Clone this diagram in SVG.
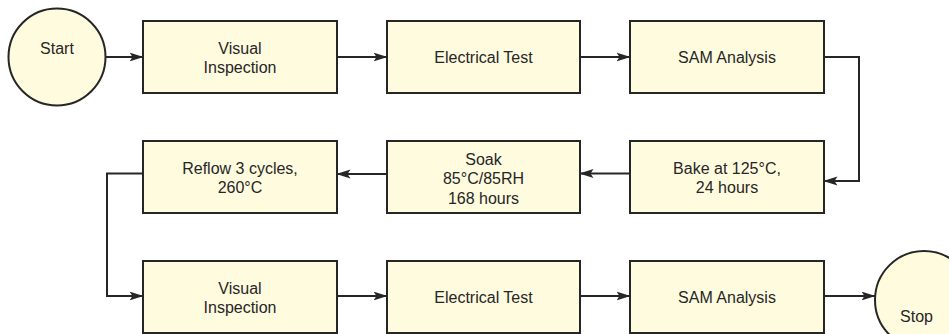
<svg xmlns="http://www.w3.org/2000/svg" width="949" height="334" viewBox="0 0 949 334">
<defs>
<style>
.node{fill:#fffbdf;stroke:#262626;stroke-width:2}
.lbl{font-family:"Liberation Sans",Arial,sans-serif;font-size:16px;fill:#262626;text-anchor:middle}
.conn{fill:none;stroke:#262626;stroke-width:2}
</style>
<marker id="ah" markerUnits="userSpaceOnUse" markerWidth="14" markerHeight="10" viewBox="0 0 14 10" refX="13.5" refY="5" orient="auto">
<path d="M0,0.5 L14,5 L0,9.5 L3,5 Z" fill="#262626"/>
</marker>
</defs>
<rect width="949" height="334" fill="#ffffff"/>
<g id="connectors">
<path class="conn" d="M105.5,57 H143" marker-end="url(#ah)"/>
<path class="conn" d="M337,57 H387" marker-end="url(#ah)"/>
<path class="conn" d="M580,57 H630" marker-end="url(#ah)"/>
<path class="conn" d="M824,57 H859 V181 H824" marker-end="url(#ah)"/>
<path class="conn" d="M630,173.5 H580" marker-end="url(#ah)"/>
<path class="conn" d="M387,174 H337" marker-end="url(#ah)"/>
<path class="conn" d="M143,173.5 H107 V296 H143" marker-end="url(#ah)"/>
<path class="conn" d="M337,296 H387" marker-end="url(#ah)"/>
<path class="conn" d="M580,296 H630" marker-end="url(#ah)"/>
<path class="conn" d="M824,296 H875" marker-end="url(#ah)"/>
</g>
<g id="start">
<circle class="node" cx="57" cy="57" r="48.5"/>
<text class="lbl" x="57" y="53.5">Start</text>
</g>
<g id="visual1">
<rect class="node" x="143" y="21" width="194" height="72"/>
<text class="lbl" x="240" y="53.5">Visual</text>
<text class="lbl" x="240" y="72.5">Inspection</text>
</g>
<g id="electrical1">
<rect class="node" x="387" y="21" width="193" height="72"/>
<text class="lbl" x="483.5" y="63">Electrical Test</text>
</g>
<g id="sam1">
<rect class="node" x="630" y="21" width="194" height="72"/>
<text class="lbl" x="727" y="63">SAM Analysis</text>
</g>
<g id="bake">
<rect class="node" x="630" y="141" width="194" height="72"/>
<text class="lbl" x="727" y="173.5">Bake at 125°C,</text>
<text class="lbl" x="727" y="192.5">24 hours</text>
</g>
<g id="soak">
<rect class="node" x="387" y="141" width="193" height="72"/>
<text class="lbl" x="483.5" y="164.5">Soak</text>
<text class="lbl" x="483.5" y="184">85°C/85RH</text>
<text class="lbl" x="483.5" y="203.5">168 hours</text>
</g>
<g id="reflow">
<rect class="node" x="143" y="141" width="194" height="72"/>
<text class="lbl" x="240" y="173.5">Reflow 3 cycles,</text>
<text class="lbl" x="240" y="192.5">260°C</text>
</g>
<g id="visual2">
<rect class="node" x="143" y="261" width="194" height="72"/>
<text class="lbl" x="240" y="294">Visual</text>
<text class="lbl" x="240" y="313">Inspection</text>
</g>
<g id="electrical2">
<rect class="node" x="387" y="261" width="193" height="72"/>
<text class="lbl" x="483.5" y="302.5">Electrical Test</text>
</g>
<g id="sam2">
<rect class="node" x="630" y="261" width="194" height="72"/>
<text class="lbl" x="727" y="302.5">SAM Analysis</text>
</g>
<g id="stop">
<circle class="node" cx="924" cy="300" r="49"/>
<text class="lbl" x="916.5" y="321.5">Stop</text>
</g>
</svg>
